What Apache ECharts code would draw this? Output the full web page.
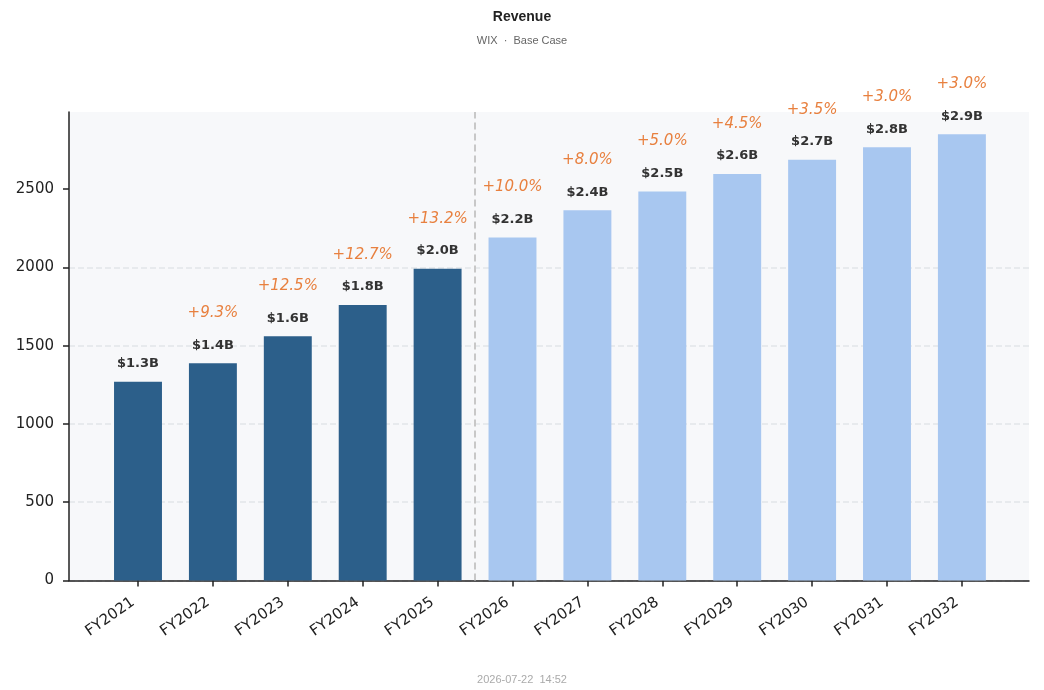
<!DOCTYPE html>
<html lang="en" style="height: 100%">
<head>
  <meta charset="utf-8">
</head>
<body style="height: 100%; margin: 0; background: #fff">
  <div id="container" style="height: 100%"></div>

  <script type="text/javascript" src="https://registry.npmmirror.com/echarts/5.5.1/files/dist/echarts.min.js"></script>

  <script type="text/javascript">
    // revenue in $M, actuals then base-case projection
    var years = ['FY2021', 'FY2022', 'FY2023', 'FY2024', 'FY2025', 'FY2026',
                 'FY2027', 'FY2028', 'FY2029', 'FY2030', 'FY2031', 'FY2032'];
    var revenue = [1270, 1388, 1561, 1760, 1992, 2191, 2366, 2485, 2597, 2688, 2768, 2851];
    var growth = [null, 9.3, 12.5, 12.7, 13.2, 10.0, 8.0, 5.0, 4.5, 3.5, 3.0, 3.0];
    var lastActual = 4; // index of FY2025
    var yTicks = [0, 500, 1000, 1500, 2000, 2500];

    var FONT = 'DejaVu Sans';
    var yMax = Math.max.apply(null, revenue) * 1.05;

    // outer plot box and the inner category band (matplotlib-like padding)
    var plotLeft = 69, plotRight = 1029, plotTop = 112, plotBottom = 580.5;
    var band = 74.9, firstCenter = 138;
    var innerLeft = firstCenter - band / 2;
    var innerRight = innerLeft + band * years.length;

    var dom = document.getElementById('container');
    var myChart = echarts.init(dom, null, { renderer: 'canvas' });

    var barData = revenue.map(function (v, i) {
      return {
        value: v,
        itemStyle: { color: i <= lastActual ? '#2c5f8a' : '#a8c7f0' }
      };
    });

    var option = {
      animation: false,
      backgroundColor: '#fff',
      title: [{
        text: 'Revenue',
        subtext: 'WIX  \u00b7  Base Case',
        left: 'center',
        top: 5,
        itemGap: 11,
        textStyle: { fontFamily: 'Liberation Sans', fontSize: 14, fontWeight: 'bold', color: '#222' },
        subtextStyle: { fontFamily: 'Liberation Sans', fontSize: 11, color: '#666' }
      }, {
        text: '2026-07-22  14:52',
        left: 'center',
        top: 669,
        textStyle: { fontFamily: 'Liberation Sans', fontSize: 11, fontWeight: 'normal', color: '#aaa' }
      }],
      grid: [{
        left: plotLeft, right: 1044 - plotRight, top: plotTop, bottom: 690 - plotBottom,
        show: true, backgroundColor: '#f7f8fa', borderWidth: 0
      }, {
        left: innerLeft, right: 1044 - innerRight, top: plotTop, bottom: 690 - plotBottom
      }],
      xAxis: [{
        gridIndex: 0,
        type: 'value',
        min: (plotLeft - firstCenter) / band,
        max: (plotRight - firstCenter) / band,
        axisLine: { show: true, onZero: false, lineStyle: { color: '#222', width: 1.5 } },
        axisTick: { show: false },
        axisLabel: { show: false },
        splitLine: { show: false }
      }, {
        gridIndex: 1,
        type: 'category',
        data: years,
        axisLine: { show: false },
        axisTick: { show: true, alignWithLabel: true, length: 6, lineStyle: { color: '#222', width: 1.5 } },
        axisLabel: {
          rotate: 35, margin: 17, padding: [0, 6, 0, 0],
          fontFamily: FONT, fontSize: 15, color: '#222'
        }
      }],
      yAxis: [{
        gridIndex: 0,
        type: 'value',
        min: 0,
        max: yMax,
        axisLine: { show: true, onZero: false, lineStyle: { color: '#222', width: 1.5 } },
        axisTick: { show: true, length: 6, customValues: yTicks, lineStyle: { color: '#222', width: 1.5 } },
        axisLabel: {
          customValues: yTicks, margin: 15, fontFamily: FONT, fontSize: 15, color: '#222',
          formatter: function (v) { return String(v); }
        },
        splitLine: { show: true, showMaxLine: false, lineStyle: { color: '#e2e5e9', type: [6, 3], width: 1.5 } }
      }, {
        gridIndex: 1,
        type: 'value',
        min: 0,
        max: yMax,
        show: false,
        splitLine: { show: false }
      }],
      series: [{
        type: 'line',
        xAxisIndex: 0,
        yAxisIndex: 0,
        data: [],
        silent: true,
        markLine: {
          symbol: 'none',
          silent: true,
          label: { show: false },
          lineStyle: { color: '#c8c8c8', type: [7, 4], width: 2 },
          data: [{ xAxis: lastActual + 0.5 }]
        }
      }, {
        type: 'bar',
        xAxisIndex: 1,
        yAxisIndex: 1,
        barWidth: '64%',
        data: barData,
        label: {
          show: true,
          position: 'top',
          distance: 8,
          formatter: function (p) {
            var v = '{v|$' + (p.value / 1000).toFixed(1) + 'B}';
            var g = growth[p.dataIndex];
            if (g == null) return v;
            return '{g|+' + g.toFixed(1) + '%}\n' + v;
          },
          rich: {
            v: { fontFamily: FONT, fontSize: 13, fontWeight: 'bold', color: '#333', lineHeight: 20 },
            g: { fontFamily: FONT, fontSize: 15, fontStyle: 'italic', color: '#e8803f', lineHeight: 44 }
          }
        }
      }]
    };

    myChart.setOption(option);
    window.addEventListener('resize', myChart.resize);
  </script>
</body>
</html>
